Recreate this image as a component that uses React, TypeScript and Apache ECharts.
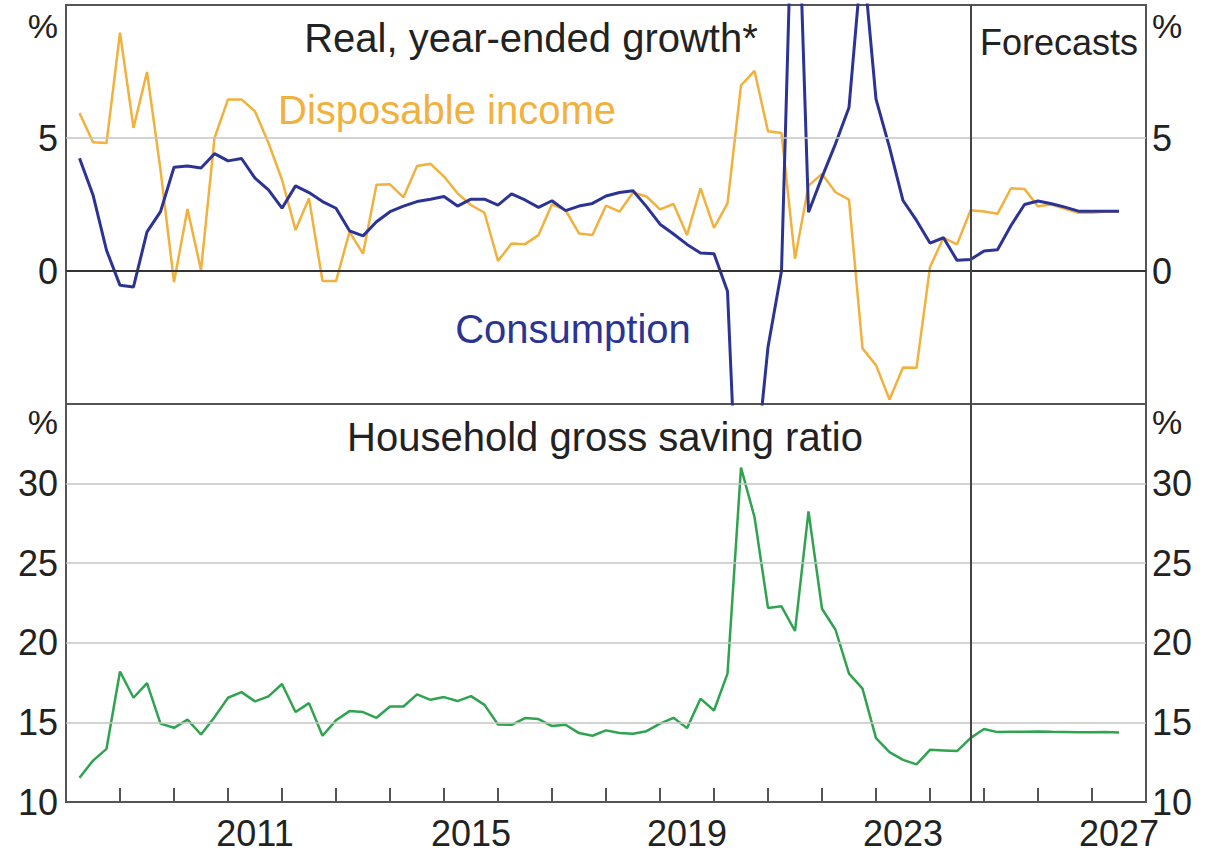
import React, { useEffect, useRef } from "react";
import * as echarts from "echarts";

// Quarter-end categories: Dec-2007 ... Dec-2027
const quarterLabels: string[] = ["2007-Q4"];
for (let y = 2008; y <= 2027; y++) for (let q = 1; q <= 4; q++) quarterLabels.push(`${y}-Q${q}`);

// Year bands for the bottom axis
const years: string[] = [];
for (let y = 2008; y <= 2027; y++) years.push(String(y));
const labelledYears = ["2011", "2015", "2019", "2023", "2027"];

const forecastStart = "2024-Q3";

// Real, year-ended growth (%), Mar-2008 .. Jun-2027
const disposableIncome: number[] = [
  5.94, 4.84, 4.81, 8.96, 5.38, 7.48, 3.8, -0.42, 2.33, 0.03,
  5.0, 6.45, 6.45, 6.0, 4.81, 3.43, 1.54, 2.73, -0.38, -0.38,
  1.47, 0.65, 3.24, 3.26, 2.77, 3.95, 4.03, 3.55, 2.92, 2.48,
  2.19, 0.38, 1.03, 1.01, 1.35, 2.51, 2.29, 1.41, 1.35, 2.46,
  2.23, 2.95, 2.8, 2.32, 2.52, 1.35, 3.11, 1.62, 2.54, 6.98,
  7.52, 5.25, 5.19, 0.46, 3.21, 3.65, 2.96, 2.68, -2.91, -3.54,
  -4.83, -3.63, -3.64, 0.15, 1.25, 1.0, 2.28, 2.24, 2.15, 3.11,
  3.08, 2.43, 2.5, 2.34, 2.19, 2.19, 2.24, 2.25,
];

const consumption: number[] = [
  4.24, 2.86, 0.78, -0.54, -0.6, 1.47, 2.23, 3.9, 3.95, 3.87,
  4.41, 4.14, 4.23, 3.49, 3.05, 2.36, 3.2, 2.95, 2.61, 2.36,
  1.51, 1.32, 1.85, 2.23, 2.44, 2.61, 2.7, 2.8, 2.44, 2.7,
  2.7, 2.48, 2.9, 2.67, 2.39, 2.64, 2.27, 2.44, 2.54, 2.82,
  2.95, 3.02, 2.42, 1.76, 1.39, 1.0, 0.68, 0.65, -0.76, -12.5,
  -7.9, -2.86, 0.0, 18.0, 2.21, 3.53, 4.78, 6.15, 12.0, 6.46,
  4.65, 2.65, 1.9, 1.05, 1.25, 0.4, 0.43, 0.75, 0.8, 1.71,
  2.5, 2.63, 2.53, 2.4, 2.25, 2.25, 2.25, 2.25,
];

// Household gross saving ratio (%)
const savingRatio: number[] = [
  11.52, 12.6, 13.34, 18.2, 16.55, 17.47, 14.92, 14.66, 15.17, 14.24,
  15.33, 16.55, 16.9, 16.32, 16.63, 17.41, 15.65, 16.21, 14.16, 15.13,
  15.71, 15.65, 15.29, 16.0, 16.0, 16.76, 16.42, 16.59, 16.34, 16.65,
  16.1, 14.87, 14.85, 15.27, 15.21, 14.77, 14.85, 14.33, 14.16, 14.5,
  14.33, 14.29, 14.45, 14.92, 15.29, 14.64, 16.49, 15.75, 18.06, 31.0,
  27.9, 22.19, 22.29, 20.74, 28.26, 22.14, 20.82, 18.06, 17.12, 14.01,
  13.13, 12.65, 12.36, 13.28, 13.24, 13.2, 14.01, 14.58, 14.39, 14.41,
  14.42, 14.43, 14.41, 14.4, 14.38, 14.38, 14.4, 14.37,
];

const topTicks = [0, 5];
const bottomTicks = [10, 15, 20, 25, 30];

const FONT = '"Liberation Sans", Arial, Helvetica, sans-serif';
const INCOME_COLOR = "#f1b13c";
const CONS_COLOR = "#2b3494";
const SAVE_COLOR = "#2fa34f";
const TEXT = "#222222";
const FRAME = "#555555";
const GRIDC = "#c4c4c4";

export default function App() {
  const ref = useRef<HTMLDivElement>(null);
  useEffect(() => {
    if (!ref.current) return;
    const chart = echarts.init(ref.current, undefined, { renderer: "svg" });
    const L = 66, W = 1080;
    const axisLabel = (ticks: number[], left: boolean) => ({
      show: true,
      fontSize: 36,
      color: TEXT,
      fontFamily: FONT,
      margin: left ? 8 : 6,
      formatter: (v: number) => (ticks.includes(v) ? String(v) : ""),
    });
    const yBase = {
      type: "value" as const,
      interval: 5,
      axisLine: { show: false },
      axisTick: { show: false },
      splitLine: { show: false },
    };
    const ml = (data: any[]) => ({
      symbol: "none",
      silent: true,
      label: { show: false },
      animation: false,
      data,
    });
    const option: any = {
      animation: false,
      textStyle: { fontFamily: FONT },
      grid: [
        { left: L, top: 5, width: W, height: 399, show: true, borderColor: FRAME, borderWidth: 2, backgroundColor: "transparent" },
        { left: L, top: 404, width: W, height: 398, show: true, borderColor: FRAME, borderWidth: 2, backgroundColor: "transparent" },
      ],
      xAxis: [
        { gridIndex: 0, type: "category", data: quarterLabels, boundaryGap: false, show: false },
        { gridIndex: 1, type: "category", data: quarterLabels, boundaryGap: false, show: false },
        {
          gridIndex: 1,
          type: "category",
          data: years,
          boundaryGap: true,
          position: "bottom",
          axisLine: { show: true, lineStyle: { color: FRAME, width: 2 } },
          axisTick: { show: true, inside: true, length: 14, interval: 0, lineStyle: { color: FRAME, width: 2 } },
          axisLabel: {
            interval: (_i: number, v: string) => labelledYears.includes(v),
            fontSize: 36,
            color: TEXT,
            fontFamily: FONT,
            margin: 13,
          },
          splitLine: { show: false },
        },
      ],
      yAxis: [
        { ...yBase, gridIndex: 0, position: "left", min: -5, max: 10, axisLabel: axisLabel(topTicks, true) },
        { ...yBase, gridIndex: 1, position: "left", min: 10, max: 35, axisLabel: axisLabel(bottomTicks, true) },
        { ...yBase, gridIndex: 0, position: "right", min: -5, max: 10, axisLabel: axisLabel(topTicks, false) },
        { ...yBase, gridIndex: 1, position: "right", min: 10, max: 35, axisLabel: axisLabel(bottomTicks, false) },
      ],
      series: [
        {
          type: "line",
          xAxisIndex: 0,
          yAxisIndex: 0,
          data: [],
          z: 1,
          markLine: ml([
            { yAxis: 5, lineStyle: { color: GRIDC, width: 1.5, type: "solid" } },
            { yAxis: 0, lineStyle: { color: "#333333", width: 2, type: "solid" } },
            { xAxis: forecastStart, lineStyle: { color: "#444444", width: 2, type: "solid" } },
          ]),
        },
        {
          type: "line",
          xAxisIndex: 1,
          yAxisIndex: 1,
          data: [],
          z: 1,
          markLine: ml([
            ...[15, 20, 25, 30].map((v) => ({ yAxis: v, lineStyle: { color: GRIDC, width: 1.5, type: "solid" } })),
            { xAxis: forecastStart, lineStyle: { color: "#444444", width: 2, type: "solid" } },
          ]),
        },
        {
          name: "Disposable income",
          type: "line",
          xAxisIndex: 0,
          yAxisIndex: 0,
          data: [null, ...disposableIncome],
          showSymbol: false,
          z: 3,
          lineStyle: { color: INCOME_COLOR, width: 2.5 },
        },
        {
          name: "Consumption",
          type: "line",
          xAxisIndex: 0,
          yAxisIndex: 0,
          data: [null, ...consumption],
          showSymbol: false,
          z: 4,
          lineStyle: { color: CONS_COLOR, width: 3 },
        },
        {
          name: "Household gross saving ratio",
          type: "line",
          xAxisIndex: 1,
          yAxisIndex: 1,
          data: [null, ...savingRatio],
          showSymbol: false,
          z: 3,
          lineStyle: { color: SAVE_COLOR, width: 2.5 },
        },
      ],
      graphic: [
        { type: "text", x: 531, y: 38, style: { text: "Real, year-ended growth*", fill: TEXT, font: `40px ${FONT}`, align: "center", verticalAlign: "middle" } },
        { type: "text", x: 980, y: 42, style: { text: "Forecasts", fill: TEXT, font: `36px ${FONT}`, align: "left", verticalAlign: "middle" } },
        { type: "text", x: 447, y: 110, style: { text: "Disposable income", fill: INCOME_COLOR, font: `40px ${FONT}`, align: "center", verticalAlign: "middle" } },
        { type: "text", x: 573, y: 329, style: { text: "Consumption", fill: CONS_COLOR, font: `40px ${FONT}`, align: "center", verticalAlign: "middle" } },
        { type: "text", x: 605, y: 437, style: { text: "Household gross saving ratio", fill: TEXT, font: `40px ${FONT}`, align: "center", verticalAlign: "middle" } },
        { type: "text", x: 58, y: 26, style: { text: "%", fill: TEXT, font: `34px ${FONT}`, align: "right", verticalAlign: "middle" } },
        { type: "text", x: 1152, y: 26, style: { text: "%", fill: TEXT, font: `34px ${FONT}`, align: "left", verticalAlign: "middle" } },
        { type: "text", x: 58, y: 422, style: { text: "%", fill: TEXT, font: `34px ${FONT}`, align: "right", verticalAlign: "middle" } },
        { type: "text", x: 1152, y: 422, style: { text: "%", fill: TEXT, font: `34px ${FONT}`, align: "left", verticalAlign: "middle" } },
      ],
    };
    chart.setOption(option);
    return () => chart.dispose();
  }, []);
  return (
    <div
      ref={ref}
      style={{ position: "fixed", left: 0, top: 0, width: 1216, height: 859, background: "#ffffff" }}
    />
  );
}
